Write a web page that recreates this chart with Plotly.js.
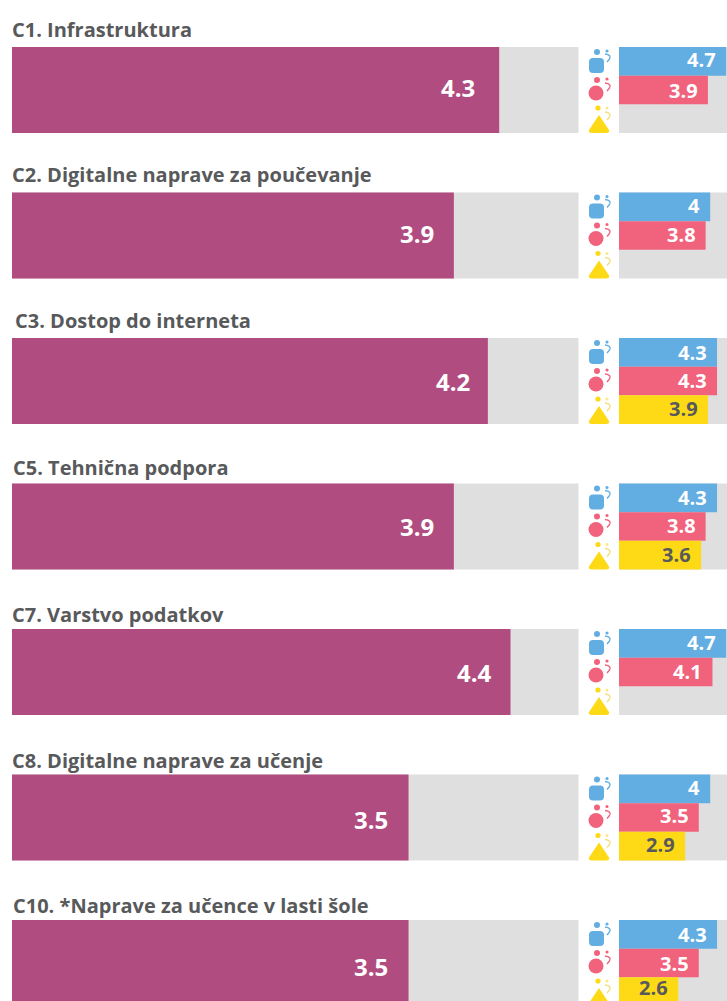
<!DOCTYPE html>
<html><head><meta charset="utf-8">
<script src="https://cdn.plot.ly/plotly-3.0.1.min.js"></script>
<style>html,body{margin:0;padding:0;background:#fff;overflow:hidden}#c{width:727px;height:1001px}</style>
</head><body><div id="c"></div>
<script>
const categories = ["C1. Infrastruktura","C2. Digitalne naprave za poučevanje","C3. Dostop do interneta","C5. Tehnična podpora","C7. Varstvo podatkov","C8. Digitalne naprave za učenje","C10. *Naprave za učence v lasti šole"];
const overall = [4.3,3.9,4.2,3.9,4.4,3.5,3.5];
const teachers = [4.7,4,4.3,4.3,4.7,4,4.3];
const students = [3.9,3.8,4.3,3.8,4.1,3.5,3.5];
const parents = [null,null,3.9,3.6,null,2.9,2.6];
const maxScore = 5;

const W=727,H=1001,pitch=145.5,c0=90,barH=86;
const titleX=[10,10,13,11,10,10,11], titleY=[29,175,320,467,614,760,905];
const mainShift=[-3,-2,0,0,0,2,3];
const mainXShift=[-22,-18,-16,-18,-17,-19,-19];
const subShift=[[-2,0,0],[-1,-1,-1],[0,-1,-1],[0,-1,-1],[-1,-1,-1],[-1,-2,-2],[0,0,-4]];
const mainL=12,mainUnit=113.3,subL=619,subUnit=22.8;
const idx=categories.map((_,i)=>i);
const rowH=barH/3/pitch;
const full=idx.map(()=>maxScore);
function bar(x,y,color,xa,width){return {type:'bar',orientation:'h',x,y,width,xaxis:xa,yaxis:'y',marker:{color,line:{width:0}},hoverinfo:'skip',showlegend:false};}
const up=idx.map(i=>i-rowH), dn=idx.map(i=>i+rowH);
const traces=[
 bar(full,idx,'#dfdfdf','x',barH/pitch),
 bar(overall,idx,'#b14c80','x',barH/pitch),
 bar(full,idx,'#dfdfdf','x2',barH/pitch),
 bar(teachers,up,'#62aee2','x2',rowH),
 bar(students,idx,'#f1637c','x2',rowH),
 bar(parents,dn,'#fdd916','x2',rowH)
];
const annotations=[];
categories.forEach((t,i)=>{
 annotations.push({xref:'paper',yref:'paper',x:titleX[i]/W,y:1-titleY[i]/H,xanchor:'left',yanchor:'middle',showarrow:false,text:'<b>'+t+'</b>',font:{family:'Open Sans',size:20,color:'#58595b'}});
 annotations.push({xref:'x',yref:'y',x:overall[i],y:i,xanchor:'right',yanchor:'middle',xshift:mainXShift[i],yshift:-mainShift[i],showarrow:false,text:'<b>'+overall[i]+'</b>',font:{family:'Open Sans',size:24,color:'#fff'}});
 [[teachers,up,'#fff'],[students,idx,'#fff'],[parents,dn,'#58595b']].forEach(([s,y,col],k)=>{
  if(s[i]==null)return;
  annotations.push({xref:'x2',yref:'y',x:s[i],y:y[i],xanchor:'right',yanchor:'middle',xshift:-8,yshift:-subShift[i][k],showarrow:false,text:'<b>'+s[i]+'</b>',font:{family:'Open Sans',size:20,color:col}});
 });
});
// person icons beside the small bars, drawn relative to each row centre
const px=x=>x/W, py=y=>1-y/H;
function P(pts){return pts.map(([c,...a])=>c+a.map((v,j)=>j%2==0?px(v):py(v)).join(' ')).join(' ');}
const shapes=[];
function circle(cx,cy,r,col){shapes.push({type:'circle',xref:'paper',yref:'paper',x0:px(cx-r),x1:px(cx+r),y0:py(cy+r),y1:py(cy-r),fillcolor:col,line:{width:0}});}
function hook(cy,col){shapes.push({type:'path',xref:'paper',yref:'paper',path:'M'+px(605)+' '+py(cy-4)+' Q'+px(612)+' '+py(cy-3)+' '+px(609.5)+' '+py(cy+1)+' L'+px(607)+' '+py(cy+4),fillcolor:'rgba(0,0,0,0)',line:{color:col,width:1.3}});}
idx.forEach(i=>{
 const c=c0+pitch*i;
 const blue='#62aee2',red='#f1637c',yel='#fdd916';
 circle(597,c-38,3,blue); circle(607,c-39,1.6,blue); hook(c-32,blue);
 shapes.push({type:'path',xref:'paper',yref:'paper',path:P([['M',593,c-32],['L',600,c-32],['Q',604,c-32,604,c-28],['L',604,c-21],['Q',604,c-17,600,c-17],['L',593,c-17],['Q',589,c-17,589,c-21],['L',589,c-28],['Q',589,c-32,593,c-32]])+' Z',fillcolor:blue,line:{width:0}});
 circle(597,c-10,3,red); circle(607,c-11,1.6,red); hook(c-3,red); circle(596,c+3,7.5,red);
 circle(598,c+18,2.6,yel); circle(607,c+18,1.6,'#fbe88a'); hook(c+26,'#f3df7a');
 shapes.push({type:'path',xref:'paper',yref:'paper',path:P([['M',599,c+25],['L',609,c+40],['Q',610,c+43,606,c+43],['L',592,c+43],['Q',588,c+43,589,c+40]])+' Z',fillcolor:yel,line:{width:0}});
});
const layout={width:W,height:H,margin:{l:0,r:0,t:0,b:0},paper_bgcolor:'#fff',plot_bgcolor:'rgba(0,0,0,0)',barmode:'overlay',showlegend:false,
 xaxis:{domain:[0,1],range:[-mainL/mainUnit,(W-mainL)/mainUnit],visible:false,fixedrange:true},
 xaxis2:{overlaying:'x',range:[-subL/subUnit,(W-subL)/subUnit],visible:false,fixedrange:true},
 yaxis:{range:[(H-c0)/pitch,-c0/pitch],visible:false,fixedrange:true},
 annotations,shapes};
Plotly.newPlot('c',traces,layout,{displayModeBar:false,staticPlot:true});
</script></body></html>
